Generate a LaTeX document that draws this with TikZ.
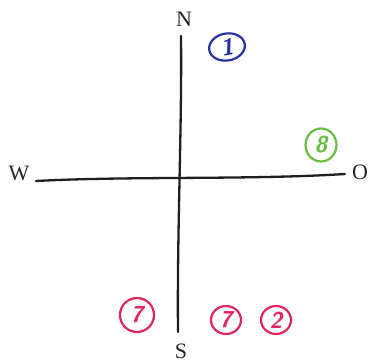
\documentclass[tikz,border=0pt]{standalone}
\usepackage{fontspec}
\setmainfont{Liberation Serif}
\usetikzlibrary{shapes.geometric}
\definecolor{cblue}{RGB}{40,50,165}
\definecolor{cgreen}{RGB}{105,190,65}
\definecolor{cpink}{RGB}{222,40,92}
\tikzset{
  axis/.style={line width=2.3pt, line cap=round, draw=black!88},
  lab/.style={font=\fontsize{22}{22}\selectfont, text=black!85, inner sep=0pt},
  num/.style={draw=#1, text=#1, line width=2.2pt, ellipse, minimum width=30pt, minimum height=28pt, inner sep=0pt, font=\sffamily\bfseries\itshape\fontsize{23}{23}\selectfont}
}
\begin{document}
\begin{tikzpicture}[x=1pt,y=-1pt]
\useasboundingbox (0,0) rectangle (369,363);
\node[lab] (N) at (184,19) {N};
\node[lab] (S) at (181,351) {S};
\node[lab] (W) at (19,173) {W};
\node[lab] (O) at (360,172) {O};
\coordinate (vt) at (181,36);
\coordinate (vb) at (178,332);
\coordinate (hl) at (36,181);
\coordinate (hr) at (345,174);
\draw[axis] (vt) .. controls (182,130) and (177,230) .. (vb);
\draw[axis] (hl) .. controls (130,176) and (250,180) .. (hr);
\node[num=cblue, minimum width=36pt, minimum height=27pt, rotate=10] (n1) at (227,47) {1};
\node[num=cgreen, minimum width=31pt, minimum height=33pt] (n8) at (321,145) {8};
\node[num=cpink, minimum width=34pt, minimum height=34pt] (n7a) at (137,315) {7};
\node[num=cpink] (n7b) at (226,320) {7};
\node[num=cpink] (n2) at (276,320) {2};
\end{tikzpicture}
\end{document}
